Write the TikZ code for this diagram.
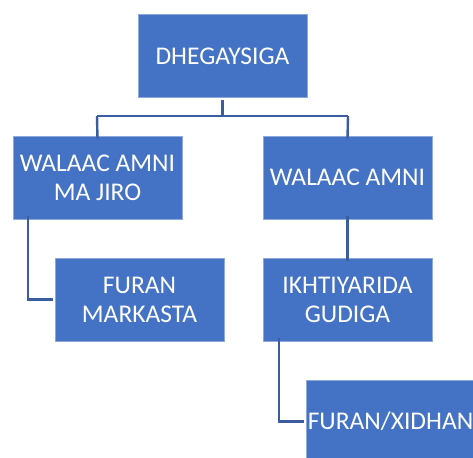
\documentclass[tikz,border=0pt]{standalone}
\usepackage{fontspec}
\setmainfont{Carlito}
\definecolor{boxblue}{HTML}{4472C4}
\definecolor{boxedge}{HTML}{8EAADB}
\definecolor{linkblue}{HTML}{3A5DA0}
\begin{document}
\begin{tikzpicture}[x=1pt,y=-1pt,
  box/.style={fill=boxblue,draw=boxedge,line width=0.6pt,minimum width=169pt,minimum height=83pt,
    inner sep=0pt,text=white,align=center,font=\fontsize{25.5}{29}\selectfont},
  link/.style={draw=linkblue,line width=2.4pt}]
\useasboundingbox (0,0) rectangle (473,457);
\begin{scope}
\clip (0,0) rectangle (473,457);
\node[box] (top) at (222.5,56) {DHEGAYSIGA};
\node[box] (l1) at (97.5,177.5) {WALAAC AMNI\\MA JIRO};
\node[box] (r1) at (347.5,177.5) {WALAAC AMNI};
\node[box] (l2) at (139.5,299.5) {FURAN\\MARKASTA};
\node[box] (r2) at (347.5,299.5) {IKHTIYARIDA\\GUDIGA};
\node[box] (r3) at (390.5,421.5) {FURAN/XIDHAN};
\end{scope}
\coordinate (jt) at (222.5,116);
\draw[link] ([yshift=-2pt]top.south) -- (jt);
\draw[link] (97,116) -- (348,116);
\draw[link] (97,116) -- ([yshift=-3pt]l1.north);
\draw[link] (348,116) -- ([yshift=-3pt]r1.north);
\draw[link] ([xshift=-69.5pt,yshift=3pt]l1.south) |- ([xshift=-2pt]l2.west);
\draw[link] ([yshift=3pt]r1.south) -- ([yshift=-3pt]r2.north);
\draw[link] ([xshift=-68.5pt,yshift=3pt]r2.south) |- ([xshift=-2pt]r3.west);
\end{tikzpicture}
\end{document}
